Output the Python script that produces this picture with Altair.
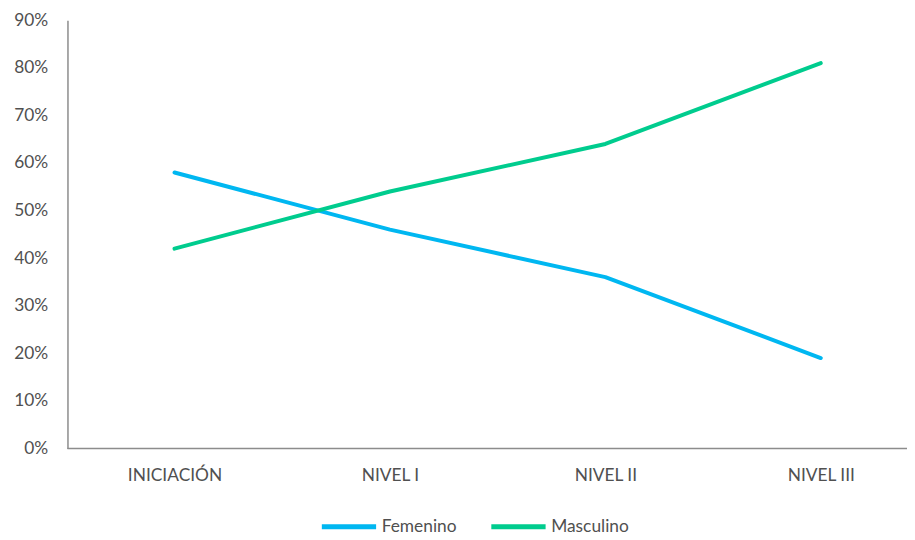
import altair as alt
import pandas as pd

categories = ["INICIACIÓN", "NIVEL I", "NIVEL II", "NIVEL III"]
femenino = [58, 46, 36, 19]
masculino = [42, 54, 64, 81]
series = ["Femenino", "Masculino"]
colors = ["#00B7F1", "#00CC8E"]

rows = []
for c, f, m in zip(categories, femenino, masculino):
    rows.append({"nivel": c, "serie": "Femenino", "valor": f})
    rows.append({"nivel": c, "serie": "Masculino", "valor": m})
df = pd.DataFrame(rows)

W, H = 847, 432
FONT = "Lato"
FS = 17.5
TXT = "#505050"

lines = alt.Chart(df).mark_line(strokeWidth=4, strokeCap="round", strokeJoin="round").encode(
    x=alt.X("nivel:N", sort=categories,
            scale=alt.Scale(type="point", range=[108, 760], padding=0),
            axis=alt.Axis(title=None, domain=False, ticks=False, labelAngle=0,
                          labelPadding=18, labelFont=FONT, labelFontSize=FS,
                          labelColor=TXT)),
    y=alt.Y("valor:Q", scale=alt.Scale(domain=[0, 90]),
            axis=alt.Axis(title=None, values=list(range(0, 100, 10)), grid=False,
                          ticks=False, domainColor="#8c8c8c", domainWidth=1.5,
                          labelExpr="datum.value + '%'", labelPadding=20,
                          labelFont=FONT, labelFontSize=FS, labelColor=TXT)),
    color=alt.Color("serie:N", scale=alt.Scale(domain=series, range=colors),
                    legend=alt.Legend(title=None, orient="none", direction="horizontal",
                                      legendX=254, legendY=H + 49,
                                      symbolType="stroke", symbolSize=3000,
                                      symbolStrokeWidth=5, labelFont=FONT,
                                      labelFontSize=FS, labelColor=TXT,
                                      labelOffset=3, columnPadding=24)),
)

baseline = alt.Chart(pd.DataFrame({"y": [0]})).mark_rule(color="#8c8c8c", strokeWidth=1.5).encode(
    x=alt.value(0), x2=alt.value(W), y=alt.value(H)
)

chart = alt.layer(baseline, lines).properties(
    width=W, height=H,
    autosize=alt.AutoSizeParams(type="none"),
    padding={"left": 60, "top": 10, "right": 0, "bottom": 90},
).configure_view(stroke=None)

chart.save("out.html", embed_options={"renderer": "svg", "actions": False})
